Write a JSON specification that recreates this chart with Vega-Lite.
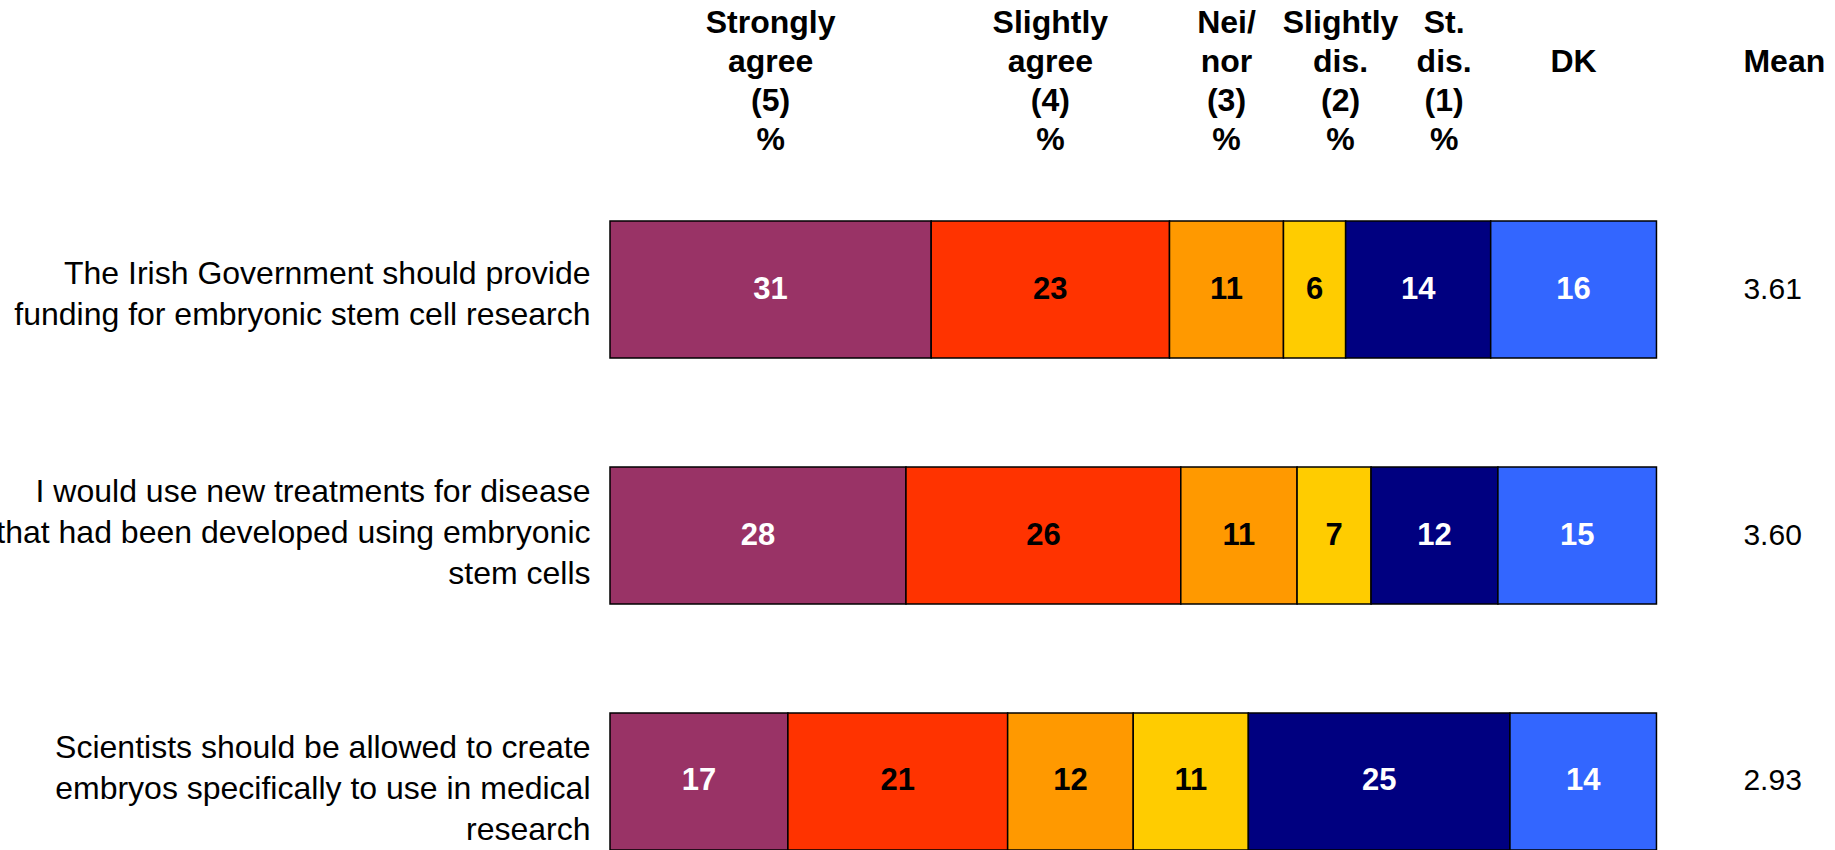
{
  "$schema": "https://vega.github.io/schema/vega-lite/v6.json",
  "width": 1225,
  "height": 629,
  "autosize": {"type": "none"},
  "padding": {"left": 610, "top": 221, "right": 0, "bottom": 0},
  "background": "white",
  "config": {"view": {"stroke": null}, "font": "Liberation Sans"},
  "datasets": {
    "responses": [
      {"q": 1, "item": "The Irish Government should provide\nfunding for embryonic stem cell research", "cat": "Strongly agree", "order": 1, "pct": 31},
      {"q": 1, "item": "The Irish Government should provide\nfunding for embryonic stem cell research", "cat": "Slightly agree", "order": 2, "pct": 23},
      {"q": 1, "item": "The Irish Government should provide\nfunding for embryonic stem cell research", "cat": "Nei/nor", "order": 3, "pct": 11},
      {"q": 1, "item": "The Irish Government should provide\nfunding for embryonic stem cell research", "cat": "Slightly dis.", "order": 4, "pct": 6},
      {"q": 1, "item": "The Irish Government should provide\nfunding for embryonic stem cell research", "cat": "St. dis.", "order": 5, "pct": 14},
      {"q": 1, "item": "The Irish Government should provide\nfunding for embryonic stem cell research", "cat": "DK", "order": 6, "pct": 16},
      {"q": 2, "item": "I would use new treatments for disease\nthat had been developed using embryonic\nstem cells", "cat": "Strongly agree", "order": 1, "pct": 28},
      {"q": 2, "item": "I would use new treatments for disease\nthat had been developed using embryonic\nstem cells", "cat": "Slightly agree", "order": 2, "pct": 26},
      {"q": 2, "item": "I would use new treatments for disease\nthat had been developed using embryonic\nstem cells", "cat": "Nei/nor", "order": 3, "pct": 11},
      {"q": 2, "item": "I would use new treatments for disease\nthat had been developed using embryonic\nstem cells", "cat": "Slightly dis.", "order": 4, "pct": 7},
      {"q": 2, "item": "I would use new treatments for disease\nthat had been developed using embryonic\nstem cells", "cat": "St. dis.", "order": 5, "pct": 12},
      {"q": 2, "item": "I would use new treatments for disease\nthat had been developed using embryonic\nstem cells", "cat": "DK", "order": 6, "pct": 15},
      {"q": 3, "item": "Scientists should be allowed to create\nembryos specifically to use in medical\nresearch", "cat": "Strongly agree", "order": 1, "pct": 17},
      {"q": 3, "item": "Scientists should be allowed to create\nembryos specifically to use in medical\nresearch", "cat": "Slightly agree", "order": 2, "pct": 21},
      {"q": 3, "item": "Scientists should be allowed to create\nembryos specifically to use in medical\nresearch", "cat": "Nei/nor", "order": 3, "pct": 12},
      {"q": 3, "item": "Scientists should be allowed to create\nembryos specifically to use in medical\nresearch", "cat": "Slightly dis.", "order": 4, "pct": 11},
      {"q": 3, "item": "Scientists should be allowed to create\nembryos specifically to use in medical\nresearch", "cat": "St. dis.", "order": 5, "pct": 25},
      {"q": 3, "item": "Scientists should be allowed to create\nembryos specifically to use in medical\nresearch", "cat": "DK", "order": 6, "pct": 14}
    ],
    "headers": [
      {"cat": "Strongly agree", "head": "Strongly\nagree\n(5)\n%"},
      {"cat": "Slightly agree", "head": "Slightly\nagree\n(4)\n%"},
      {"cat": "Nei/nor", "head": "Nei/\nnor\n(3)\n%"},
      {"cat": "Slightly dis.", "head": "Slightly\ndis.\n(2)\n%"},
      {"cat": "St. dis.", "head": "St.\ndis.\n(1)\n%"},
      {"cat": "DK", "head": "\nDK"}
    ],
    "means": [
      {"q": 1, "item": "The Irish Government should provide\nfunding for embryonic stem cell research", "mean": 3.61},
      {"q": 2, "item": "I would use new treatments for disease\nthat had been developed using embryonic\nstem cells", "mean": 3.60},
      {"q": 3, "item": "Scientists should be allowed to create\nembryos specifically to use in medical\nresearch", "mean": 2.93}
    ]
  },
  "encoding": {
    "y": {
      "field": "item",
      "type": "nominal",
      "sort": null,
      "scale": {"paddingInner": 0.443, "paddingOuter": 0},
      "axis": {
        "title": null,
        "domain": false,
        "ticks": false,
        "labelExpr": "split(datum.label, '\\n')",
        "labelFont": "Liberation Sans",
        "labelFontSize": 32,
        "labelColor": "black",
        "labelLineHeight": 41,
        "labelPadding": 20,
        "labelLimit": 800,
        "labelAlign": "right",
        "labelOffset": {
          "condition": [
            {"test": "indexof(datum.value, 'Irish') >= 0", "value": -16},
            {"test": "indexof(datum.value, 'treatments') >= 0", "value": -44}
          ],
          "value": -33
        }
      }
    }
  },
  "layer": [
    {
      "data": {"name": "responses"},
      "mark": {"type": "bar", "stroke": "black", "strokeWidth": 1.5},
      "encoding": {
        "x": {
          "field": "pct",
          "type": "quantitative",
          "stack": "normalize",
          "scale": {"domain": [0, 1.1706], "nice": false, "zero": true},
          "axis": null
        },
        "color": {
          "field": "cat",
          "type": "nominal",
          "sort": null,
          "scale": {
            "domain": ["Strongly agree", "Slightly agree", "Nei/nor", "Slightly dis.", "St. dis.", "DK"],
            "range": ["#993366", "#FF3300", "#FF9900", "#FFCC00", "#000080", "#3366FF"]
          },
          "legend": null
        },
        "order": {"field": "order", "type": "quantitative"}
      }
    },
    {
      "data": {"name": "responses"},
      "mark": {"type": "text", "font": "Liberation Sans", "fontWeight": "bold", "fontSize": 31, "baseline": "middle", "align": "center"},
      "encoding": {
        "x": {"field": "pct", "type": "quantitative", "stack": "normalize", "bandPosition": 0.5},
        "detail": {"field": "cat", "type": "nominal"},
        "order": {"field": "order", "type": "quantitative"},
        "text": {"field": "pct", "type": "quantitative"},
        "color": {
          "condition": {"test": "indexof(['Strongly agree', 'St. dis.', 'DK'], datum.cat) >= 0", "value": "white"},
          "value": "black"
        }
      }
    },
    {
      "data": {"name": "responses"},
      "transform": [
        {"filter": "datum.q == 1"},
        {"lookup": "cat", "from": {"data": {"name": "headers"}, "key": "cat", "fields": ["head"]}}
      ],
      "mark": {"type": "text", "font": "Liberation Sans", "fontWeight": "bold", "fontSize": 32, "baseline": "alphabetic", "align": "center", "lineBreak": "\n", "lineHeight": 39, "dy": -188, "color": "black"},
      "encoding": {
        "x": {"field": "pct", "type": "quantitative", "stack": "normalize", "bandPosition": 0.5},
        "y": {"field": "item", "type": "nominal", "sort": null, "bandPosition": 0},
        "detail": {"field": "cat", "type": "nominal"},
        "order": {"field": "order", "type": "quantitative"},
        "text": {"field": "head", "type": "nominal"},
        "opacity": {"condition": {"test": "datum.cat == 'Slightly dis.' || datum.cat == 'St. dis.'", "value": 0}, "value": 1}
      }
    },
    {
      "data": {"name": "responses"},
      "transform": [
        {"filter": "datum.q == 1"},
        {"lookup": "cat", "from": {"data": {"name": "headers"}, "key": "cat", "fields": ["head"]}}
      ],
      "mark": {"type": "text", "font": "Liberation Sans", "fontWeight": "bold", "fontSize": 32, "baseline": "alphabetic", "align": "center", "lineBreak": "\n", "lineHeight": 39, "dy": -188, "dx": 26, "color": "black"},
      "encoding": {
        "x": {"field": "pct", "type": "quantitative", "stack": "normalize", "bandPosition": 0.5},
        "y": {"field": "item", "type": "nominal", "sort": null, "bandPosition": 0},
        "detail": {"field": "cat", "type": "nominal"},
        "order": {"field": "order", "type": "quantitative"},
        "text": {"field": "head", "type": "nominal"},
        "opacity": {"condition": {"test": "datum.cat == 'Slightly dis.' || datum.cat == 'St. dis.'", "value": 1}, "value": 0}
      }
    },
    {
      "data": {"name": "means"},
      "mark": {"type": "text", "font": "Liberation Sans", "fontSize": 30, "baseline": "middle", "align": "left", "color": "black"},
      "encoding": {
        "x": {"datum": 1.0831, "type": "quantitative"},
        "text": {"field": "mean", "type": "quantitative", "format": ".2f"}
      }
    },
    {
      "data": {"name": "means"},
      "transform": [{"filter": "datum.q == 1"}],
      "mark": {"type": "text", "font": "Liberation Sans", "fontWeight": "bold", "fontSize": 32, "baseline": "alphabetic", "align": "left", "dy": -149, "color": "black"},
      "encoding": {
        "x": {"datum": 1.0831, "type": "quantitative"},
        "y": {"field": "item", "type": "nominal", "sort": null, "bandPosition": 0},
        "text": {"value": "Mean"}
      }
    }
  ]
}
